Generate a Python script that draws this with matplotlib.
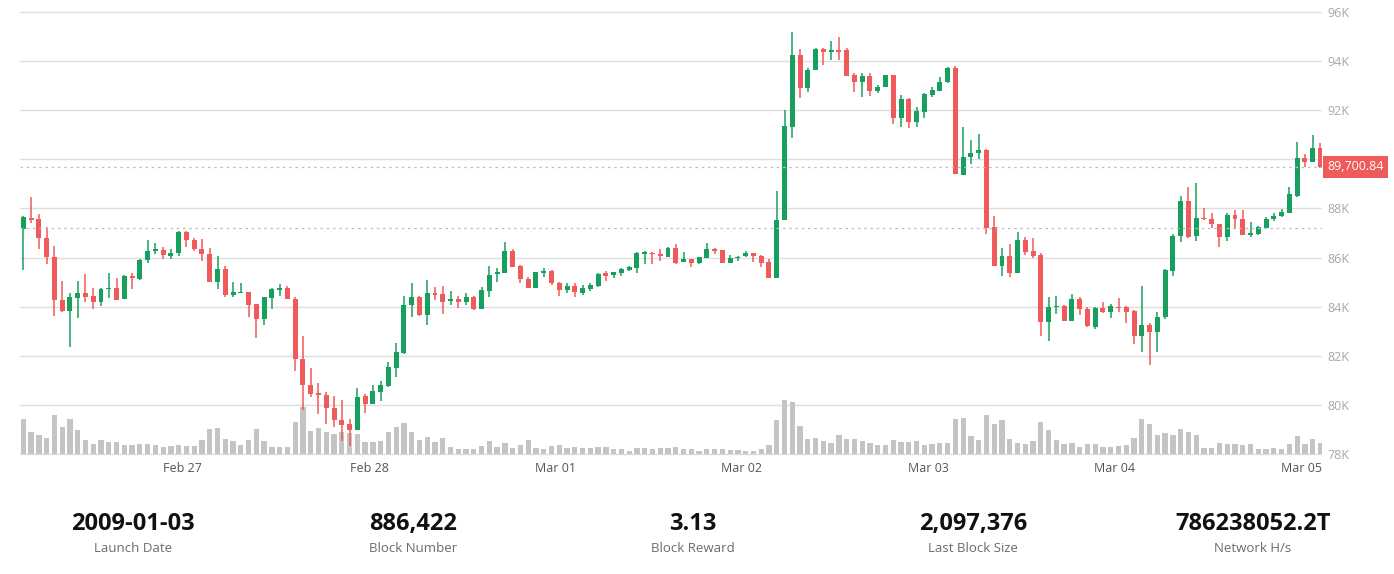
import numpy as np
import pandas as pd
import matplotlib
matplotlib.use('Agg')
import matplotlib.pyplot as plt
from matplotlib.transforms import blended_transform_factory

plt.rcParams['font.family'] = ['Open Sans', 'DejaVu Sans']

# hourly candles, first one at Feb 26 04:00
start = '2025-02-26 04:00'

opens = [87170, 87620, 87560, 86780, 86020, 84270, 83830, 84350, 84550, 84430, 84200, 84710,
         84760, 84300, 85250, 85130, 85900, 86270, 86310, 86070, 86170, 87050, 86710, 86350,
         86140, 84990, 85520, 84470, 84550, 84610, 84090, 83500, 84360, 84690, 84750, 84310,
         81870, 80810, 80470, 80410, 79880, 79380, 79210, 78970, 80350, 80030, 80520, 80780,
         81510, 82100, 84050, 84400, 83660, 84540, 84510, 84220, 84310, 84190, 84400, 83890,
         84650, 85330, 85360, 86280, 85670, 85130, 84770, 85380, 85460, 84950, 84680, 84840,
         84540, 84720, 84840, 85360, 85280, 85360, 85490, 85590, 86140, 86170, 86140, 86030,
         86400, 85810, 85930, 85760, 85970, 86350, 86310, 85790, 85970, 86060, 86170, 86060,
         85810, 85180, 87530, 91330, 94250, 92890, 93630, 94480, 94380, 94450, 94450, 93430,
         93160, 93410, 92790, 92930, 93430, 91690, 92460, 91530, 91940, 92620, 92790, 93140,
         93710, 89360, 90110, 90250, 90380, 87230, 85670, 86070, 85380, 86710, 86270, 86100,
         83390, 83970, 84040, 83430, 84310, 83920, 83180, 83930, 83770, 84000, 84000, 83830,
         82800, 83250, 82980, 83570, 85460, 86880, 88310, 86880, 87600, 87570, 87350, 86850,
         87730, 87560, 86920, 86960, 87210, 87560, 87690, 87800, 88510, 90040, 89900, 90450]

highs = [87690, 88480, 87760, 87240, 86470, 85040, 84570, 85040, 85330, 84750, 84750, 85380,
         85150, 85290, 85360, 85940, 86710, 86600, 86440, 86350, 87080, 87080, 86810, 86740,
         86380, 86050, 85670, 84990, 84950, 84610, 84090, 84400, 84750, 84910, 84850, 84400,
         82820, 81490, 80880, 80540, 80370, 80200, 79410, 80670, 80430, 80810, 80960, 81760,
         82510, 84440, 84950, 84430, 85080, 84810, 84850, 84640, 84440, 84550, 84440, 84810,
         85670, 85560, 86620, 86340, 85700, 85190, 85420, 85590, 85490, 85020, 84970, 84950,
         84880, 84950, 85360, 85450, 85420, 85560, 85670, 86210, 86280, 86240, 86340, 86420,
         86540, 86210, 85930, 86030, 86600, 86400, 86310, 86100, 86060, 86270, 86200, 86100,
         85940, 88710, 92010, 95190, 94480, 93730, 94520, 94520, 94820, 94970, 94550, 93500,
         93500, 93500, 93030, 93430, 93430, 92620, 92510, 92120, 92690, 92960, 93340, 93770,
         93800, 91300, 90790, 91020, 90420, 87700, 86380, 86540, 87030, 86820, 86810, 86170,
         84400, 84440, 84070, 84500, 84380, 84000, 83970, 84200, 84090, 84360, 84040, 83860,
         84850, 83350, 83770, 85530, 86960, 88510, 88880, 89020, 88000, 87800, 87350, 87800,
         87940, 87940, 87430, 87300, 87640, 87800, 87980, 88880, 90690, 90200, 90990, 90650]

lows = [85490, 87420, 86340, 85720, 83630, 83790, 82340, 83520, 84200, 83920, 84040, 84340,
        84270, 84300, 84710, 85080, 85760, 86140, 85930, 85930, 86070, 86440, 86270, 85860,
        84990, 84710, 84400, 84400, 84540, 83590, 82730, 83250, 83900, 84430, 84300, 81390,
        79790, 80330, 79610, 79210, 79080, 78540, 78340, 78970, 79650, 80020, 80140, 80710,
        81150, 82070, 83570, 83630, 83250, 84270, 83690, 84070, 83960, 84070, 83860, 83890,
        84400, 85020, 85360, 85630, 84970, 84750, 84770, 85190, 84880, 84440, 84540, 84400,
        84470, 84650, 84790, 85030, 85150, 85260, 85450, 85360, 85740, 85740, 85860, 86030,
        85720, 85810, 85600, 85720, 85970, 86140, 85790, 85760, 85860, 86030, 85810, 85630,
        85180, 85180, 87530, 90860, 92490, 92750, 93630, 93840, 94050, 94050, 93410, 92750,
        92550, 92580, 92710, 92930, 91440, 91300, 91260, 91330, 91670, 92550, 92790, 93100,
        89390, 89360, 89800, 90010, 86950, 85670, 85250, 85220, 85380, 86100, 85970, 82820,
        82610, 83690, 83430, 83430, 83660, 83180, 83080, 83730, 83550, 83770, 83350, 82480,
        82160, 81620, 82140, 83480, 85260, 86640, 86780, 86690, 87530, 87190, 86440, 86690,
        87160, 86920, 86850, 86920, 87160, 87500, 87660, 87800, 88480, 89680, 89900, 89630]

closes = [87640, 87540, 86780, 86020, 84270, 83830, 84380, 84550, 84400, 84200, 84720, 84770,
          84270, 85240, 85150, 85910, 86280, 86320, 86090, 86200, 87050, 86710, 86350, 86130,
          84990, 85520, 84460, 84580, 84610, 84080, 83500, 84380, 84720, 84750, 84300, 81850,
          80810, 80440, 80400, 79870, 79380, 79180, 78970, 80330, 80030, 80550, 80810, 81530,
          82140, 84070, 84400, 83660, 84540, 84470, 84200, 84310, 84190, 84400, 83890, 84680,
          85290, 85420, 86280, 85630, 85130, 84770, 85400, 85460, 84950, 84680, 84840, 84610,
          84770, 84880, 85330, 85260, 85400, 85540, 85600, 86170, 86210, 86130, 86070, 86400,
          85760, 85930, 85760, 86010, 86340, 86280, 85790, 85990, 86030, 86170, 86060, 85760,
          85180, 87530, 91360, 94250, 92890, 93640, 94480, 94380, 94450, 94380, 93410, 93160,
          93410, 92780, 92960, 93430, 91690, 92460, 91530, 91970, 92650, 92820, 93140, 93710,
          89390, 90110, 90250, 90380, 87210, 85670, 86070, 85380, 86710, 86240, 86070, 83390,
          83970, 84040, 83430, 84310, 83900, 83210, 83930, 83770, 84030, 83930, 83790, 82800,
          83250, 82980, 83590, 85490, 86890, 88310, 86850, 87600, 87560, 87350, 86850, 87730,
          87560, 86920, 86990, 87230, 87570, 87700, 87840, 88590, 90040, 89900, 90450, 89700.84]

volumes = [3500, 2170, 1930, 1600, 3900, 2670, 3470, 2400, 1430, 970, 1430, 1200,
           1200, 870, 870, 1000, 1000, 900, 730, 800, 870, 800, 830, 1430,
           2500, 2600, 1500, 1300, 900, 1400, 2470, 1300, 730, 730, 730, 3200,
           4730, 2330, 2630, 2230, 2000, 2200, 2070, 2000, 1170, 1230, 1300, 2230,
           2670, 3070, 2200, 1400, 1730, 1170, 1630, 730, 530, 530, 530, 830,
           1330, 730, 1130, 630, 900, 1370, 630, 470, 800, 870, 630, 670,
           570, 570, 700, 670, 470, 470, 330, 570, 570, 470, 570, 570,
           700, 470, 470, 330, 470, 470, 470, 400, 400, 330, 330, 500,
           870, 3400, 5400, 5200, 2800, 1470, 1630, 1300, 1100, 1900, 1470, 1470,
           1330, 1130, 900, 930, 1370, 1230, 1230, 1300, 900, 1000, 1130, 1130,
           3470, 3630, 1800, 1400, 3930, 3000, 3400, 1470, 1130, 1000, 1270, 3170,
           2400, 1370, 1030, 1070, 700, 1000, 1030, 700, 730, 800, 900, 1630,
           3470, 2970, 1900, 2130, 1900, 2500, 2230, 1900, 570, 630, 1070, 970,
           970, 900, 970, 470, 470, 570, 470, 1000, 1800, 1000, 1500, 1070]

ref_price = 87200   # dotted reference line
price_ticks = [78000, 80000, 82000, 84000, 86000, 88000, 90000, 92000, 94000, 96000]

stat_values = ['2009-01-03', '886,422', '3.13', '2,097,376', '786238052.2T']
stat_labels = ['Launch Date', 'Block Number', 'Block Reward', 'Last Block Size', 'Network H/s']

UP = '#17a05d'
DOWN = '#ef5a5a'
VOL = '#c4c4c4'
GRID = '#dedede'

o = np.array(opens)
h = np.array(highs)
l = np.array(lows)
c = np.array(closes)
v = np.array(volumes)
times = pd.date_range(start, periods=len(o), freq='h')
x = np.arange(len(o))
colors = np.where(c >= o, UP, DOWN)

W, H = 1394, 574
fig = plt.figure(figsize=(W / 100, H / 100), dpi=100)
rect = [20 / W, 1 - 458 / H, 1302 / W, 458 / H]

# base axes: grid + price scale
ax = fig.add_axes(rect)
ax_vol = fig.add_axes(rect, sharex=ax)
ax_c = fig.add_axes(rect, sharex=ax, sharey=ax)
for a in (ax, ax_vol, ax_c):
    for s in a.spines.values():
        s.set_visible(False)
ax_vol.patch.set_alpha(0)
ax_c.patch.set_alpha(0)

ax.set_xlim(-0.43, 167.2)
ax.set_ylim(77837, 96489)
for p in price_ticks:
    ax.axhline(p, color=GRID, lw=1, zorder=0)

# the scale label hidden under the last-price tag is left blank
last_tick = round(c[-1] / 2000) * 2000
ax.yaxis.tick_right()
ax.set_yticks(price_ticks)
ax.set_yticklabels(['' if p == last_tick else f'{p // 1000}K' for p in price_ticks])
ax.tick_params(axis='y', length=0, pad=4, labelsize=9, labelcolor='#a8a8a8')

day_idx = x[times.hour == 0]
ax.set_xticks(day_idx + 0.5)
ax.set_xticklabels([times[i].strftime('%b %d') for i in day_idx])
ax.tick_params(axis='x', length=0, pad=3, labelsize=9, labelcolor='#555555')

# volume
ax_vol.bar(x, v, width=0.68, color=VOL, linewidth=0)
ax_vol.set_ylim(-400, 45400)
ax_vol.set_yticks([])
ax_vol.tick_params(axis='x', bottom=False, labelbottom=False)

# candles
ax_c.vlines(x, l, h, colors=colors, lw=1.1)
body = np.maximum(np.abs(c - o), 60)
ax_c.bar(x, body, bottom=np.minimum(o, c), width=0.64, color=colors, linewidth=0)
ax_c.tick_params(left=False, bottom=False, labelleft=False, labelbottom=False)

# dotted price lines
ax_c.axhline(c[-1], color='#bdbdbd', lw=0.9, ls=(0, (2, 3)))
ax_c.axhline(ref_price, color='#bdbdbd', lw=0.9, ls=(0, (2, 3)))

# last price label
tr = blended_transform_factory(ax_c.transAxes, ax_c.transData)
ax_c.text(1.004, c[-1], f'{c[-1]:,.2f}', transform=tr, ha='left', va='center',
          fontsize=9, color='white', zorder=5,
          bbox=dict(boxstyle='square,pad=0.35', fc=DOWN, ec='none'))

# stats row
centers = [133, 413, 693, 973, 1253]
for cx, val, lab in zip(centers, stat_values, stat_labels):
    fig.text(cx / W, 1 - 524 / H, val, ha='center', va='center',
             fontsize=17, fontweight='bold', color='#111111')
    fig.text(cx / W, 1 - 549 / H, lab, ha='center', va='center',
             fontsize=9.5, color='#6b6b6b')

fig.savefig('out.png', dpi=100, facecolor='white')
